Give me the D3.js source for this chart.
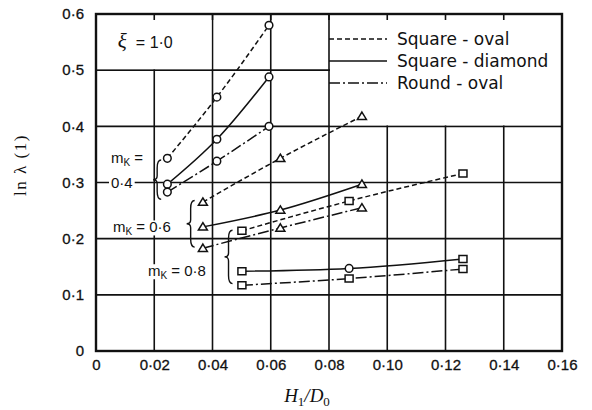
<!DOCTYPE html>
<html>
<head>
<meta charset="utf-8">
<script src="https://cdn.jsdelivr.net/npm/d3@7"></script>
<style>
body { margin: 0; background: #fff; }
text { font-family: "Liberation Sans", Arial, sans-serif; fill: #111; }
</style>
</head>
<body>
<div id="chart"></div>
<script>
// values
var xTicks = [0, 0.02, 0.04, 0.06, 0.08, 0.10, 0.12, 0.14, 0.16];
var yTicks = [0, 0.1, 0.2, 0.3, 0.4, 0.5, 0.6];

var x04 = [0.0245, 0.0415, 0.0594];
var x06 = [0.0367, 0.0633, 0.0913];
var x08 = [0.0501, 0.0869, 0.126];

var sqOval04 = [0.343, 0.452, 0.580];
var sqDiam04 = [0.297, 0.377, 0.488];
var rdOval04 = [0.283, 0.338, 0.400];

var sqOval06 = [0.265, 0.343, 0.418];
var sqDiam06 = [0.221, 0.251, 0.297];
var rdOval06 = [0.183, 0.219, 0.255];

var sqOval08 = [0.214, 0.267, 0.316];
var sqDiam08 = [0.142, 0.147, 0.164];
var rdOval08 = [0.117, 0.129, 0.146];

var shapes04 = ["circle", "circle", "circle"];
var shapes06 = ["triangle", "triangle", "triangle"];
var shapes08 = ["square", "square", "square"];
var shapesSqDiam08 = ["square", "circle", "square"];

var legendNames = ["Square - oval", "Square - diamond", "Round - oval"];
var dashes = ["5,3", null, "11,3,2,3"];

var series = [
  {x: x04, y: sqOval04, s: shapes04, t: 0},
  {x: x04, y: sqDiam04, s: shapes04, t: 1},
  {x: x04, y: rdOval04, s: shapes04, t: 2},
  {x: x06, y: sqOval06, s: shapes06, t: 0},
  {x: x06, y: sqDiam06, s: shapes06, t: 1},
  {x: x06, y: rdOval06, s: shapes06, t: 2},
  {x: x08, y: sqOval08, s: shapes08, t: 0},
  {x: x08, y: sqDiam08, s: shapesSqDiam08, t: 1},
  {x: x08, y: rdOval08, s: shapes08, t: 2}
];

var svg = d3.select("#chart").append("svg").attr("width", 592).attr("height", 410),
    margin = {top: 14, right: 30, bottom: 59, left: 96},
    width = 592 - margin.left - margin.right,
    height = 410 - margin.top - margin.bottom,
    g = svg.append("g").attr("transform", "translate(" + margin.left + "," + margin.top + ")");

var x = d3.scaleLinear().domain([0, 0.16]).range([0, width]);
var y = d3.scaleLinear().domain([0, 0.6]).range([height, 0]);

// grid
g.append("g").selectAll("line").data(xTicks.slice(1, -1)).enter().append("line")
  .attr("x1", function(d) { return x(d); }).attr("x2", function(d) { return x(d); })
  .attr("y1", 0).attr("y2", height)
  .attr("stroke", "#111").attr("stroke-width", 1.6);
g.append("g").selectAll("line").data(yTicks.slice(1, -1)).enter().append("line")
  .attr("y1", function(d) { return y(d); }).attr("y2", function(d) { return y(d); })
  .attr("x1", 0).attr("x2", width)
  .attr("stroke", "#111").attr("stroke-width", 1.6);

// white boxes for xi label and legend
g.append("rect").attr("x", x(0) + 1).attr("y", 1).attr("width", x(0.04) - x(0) - 2).attr("height", y(0.5) - 2)
  .attr("fill", "#fff");
g.append("rect").attr("x", x(0.08) + 1).attr("y", 1).attr("width", x(0.16) - x(0.08) - 2).attr("height", y(0.4) - 2)
  .attr("fill", "#fff");
// small top ticks
g.append("g").selectAll("line").data(xTicks.slice(1, -1)).enter().append("line")
  .attr("x1", function(d) { return x(d); }).attr("x2", function(d) { return x(d); })
  .attr("y1", 0).attr("y2", 6)
  .attr("stroke", "#111").attr("stroke-width", 1.6);

// frame
g.append("rect").attr("width", width).attr("height", height)
  .attr("fill", "none").attr("stroke", "#111").attr("stroke-width", 2.4);

// axes labels
var fmt = function(p) { return function(d) { return d === 0 ? "0" : d3.format(p)(d).replace(".", "\u00b7"); }; };
var xAxis = g.append("g").attr("transform", "translate(0," + height + ")")
  .call(d3.axisBottom(x).tickValues(xTicks).tickFormat(fmt(".2f")).tickSize(0).tickPadding(8));
var yAxis = g.append("g")
  .call(d3.axisLeft(y).tickValues(yTicks).tickFormat(fmt(".1f")).tickSize(0).tickPadding(12));
[xAxis, yAxis].forEach(function(a) {
  a.select(".domain").remove();
  a.selectAll("text").attr("font-size", "15px").attr("fill", "#111")
    .attr("stroke", "#111").attr("stroke-width", 0.3)
    .style("font-family", "'Liberation Sans', Arial, sans-serif");
});

svg.append("text").attr("transform", "translate(26,165) rotate(-90)")
  .attr("text-anchor", "middle").attr("font-size", "17px")
  .style("font-family", "'Liberation Serif', serif").style("letter-spacing", "1.5px")
  .text("ln \u03bb (1)");

var xt = svg.append("text").attr("x", margin.left + width / 2 - 22).attr("y", 402)
  .attr("text-anchor", "middle").attr("font-size", "19px")
  .style("font-family", "'Liberation Serif', serif").style("font-style", "italic");
xt.append("tspan").text("H");
xt.append("tspan").attr("font-size", "13px").attr("dy", 4).style("font-style", "normal").text("1");
xt.append("tspan").attr("dy", -4).text("/D");
xt.append("tspan").attr("font-size", "13px").attr("dy", 4).style("font-style", "normal").text("0");

// xi label
var xi = g.append("text").attr("x", x(0.0075)).attr("y", y(0.55) + 6).attr("font-size", "16px");
xi.append("tspan").style("font-family", "'Liberation Serif', serif").style("font-style", "italic")
  .attr("font-size", "21px").text("\u03be");
xi.append("tspan").attr("dx", 9).text("= 1\u00b70");

// legend
var leg = g.append("g").attr("transform", "translate(" + x(0.08) + ",0)");
legendNames.forEach(function(n, i) {
  var ly = 25 + i * 22;
  leg.append("line").attr("x1", 0).attr("x2", 58).attr("y1", ly).attr("y2", ly)
    .attr("stroke", "#111").attr("stroke-width", 1.4).attr("stroke-dasharray", dashes[i]);
  leg.append("text").attr("x", 68).attr("y", ly + 6).attr("font-size", "17px")
    .style("font-family", "'DejaVu Sans', sans-serif").text(n);
});

// m_K annotations (white background behind text breaks the grid)
function withBg(t, pad) {
  var bb = t.node().getBBox();
  g.insert("rect", function() { return t.node(); })
    .attr("x", bb.x - pad).attr("y", bb.y + 2).attr("width", bb.width + 2 * pad).attr("height", bb.height - 4)
    .attr("fill", "#fff");
}
function mk(xp, yp, val) {
  var t = g.append("text").attr("x", xp).attr("y", yp).attr("font-size", "15px");
  t.append("tspan").text("m");
  t.append("tspan").attr("font-size", "10px").attr("dy", 3).text("K");
  t.append("tspan").attr("dy", -3).text(val);
  withBg(t, 1);
}
mk(15, y(0.343) + 5, " =");
var v4 = g.append("text").attr("x", 15).attr("y", y(0.3) + 5).attr("font-size", "15px").text("0\u00b74");
withBg(v4, 2);
mk(17, y(0.22) + 5, " = 0\u00b76");
mk(52, y(0.142) + 5, " = 0\u00b78");

function brace(xp, y1, y2) {
  var m = (y1 + y2) / 2, w = 4;
  g.append("path")
    .attr("d", "M" + (xp + w) + "," + y1 + "Q" + xp + "," + y1 + " " + xp + "," + (y1 + 8) +
      "L" + xp + "," + (m - 4) + "Q" + xp + "," + m + " " + (xp - w) + "," + m +
      "Q" + xp + "," + m + " " + xp + "," + (m + 4) +
      "L" + xp + "," + (y2 - 8) + "Q" + xp + "," + y2 + " " + (xp + w) + "," + y2)
    .attr("fill", "none").attr("stroke", "#111").attr("stroke-width", 1.4);
}
brace(x(0.021), y(0.34), y(0.27));
brace(x(0.0325), y(0.268), y(0.185));
brace(x(0.0455), y(0.215), y(0.12));

// data lines
var line = d3.line()
  .x(function(d) { return x(d[0]); })
  .y(function(d) { return y(d[1]); })
  .curve(d3.curveMonotoneX);

series.forEach(function(s) {
  var pts = s.x.map(function(v, i) { return [v, s.y[i], s.s[i]]; });
  g.append("path").datum(pts).attr("d", line)
    .attr("fill", "none").attr("stroke", "#111").attr("stroke-width", 1.5)
    .attr("stroke-dasharray", dashes[s.t]);
  g.selectAll(null).data(pts).enter().append("path")
    .attr("transform", function(d) { return "translate(" + x(d[0]) + "," + y(d[1]) + ")"; })
    .attr("d", function(d) {
      if (d[2] === "circle") return d3.symbol(d3.symbolCircle, 46)();
      if (d[2] === "triangle") return "M0,-4.2L4.5,3.2L-4.5,3.2Z";
      return "M-4,-3.5H4V3.5H-4Z";
    })
    .attr("fill", "#fff").attr("stroke", "#111").attr("stroke-width", 1.5);
});
</script>
</body>
</html>
